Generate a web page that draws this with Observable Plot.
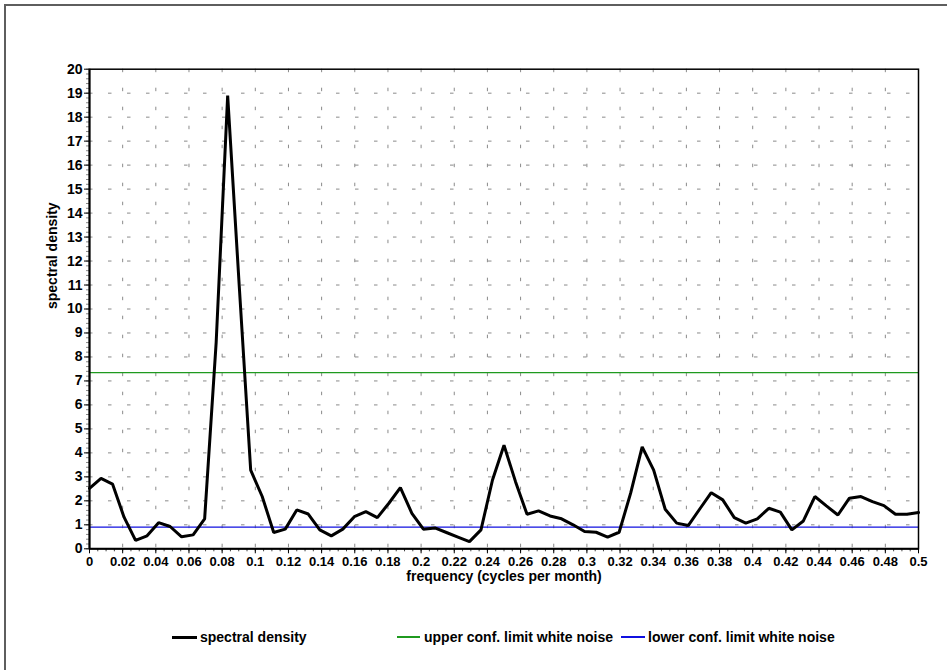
<!DOCTYPE html>
<html>
<head>
<meta charset="utf-8">
<script src="https://cdn.jsdelivr.net/npm/d3@7"></script>
<script src="https://cdn.jsdelivr.net/npm/@observablehq/plot@0.6"></script>
<style>
  html, body { margin: 0; padding: 0; background: #fff; overflow: hidden; width: 947px; height: 670px; }
  #frame { position: absolute; left: 4px; top: 4px; width: 1200px; height: 1200px; border-left: 2px solid #5e5e5e; border-top: 2px solid #5e5e5e; }
  #chart { position: absolute; left: 0; top: 0; }
  #legend { position: absolute; left: 0; top: 628px; width: 947px; height: 20px; font-family: "Liberation Sans", Arial, sans-serif; font-weight: bold; font-size: 14px; }
  #legend .sw { position: absolute; display: block; }
  #legend .lab { position: absolute; top: 1px; white-space: nowrap; line-height: 16px; }
</style>
</head>
<body>
<div id="frame"></div>
<div id="chart"></div>
<div id="legend"></div>
<script>
// Fourier frequencies k / nObs for monthly data
const nObs = 144;
const density = [2.52, 2.94, 2.70, 1.32, 0.35, 0.54, 1.09, 0.93, 0.50, 0.58,
  1.25, 8.6, 18.9, 11.0, 3.28, 2.18, 0.68, 0.82, 1.62, 1.45,
  0.79, 0.54, 0.82, 1.34, 1.55, 1.30, 1.90, 2.55, 1.48, 0.82,
  0.87, 0.68, 0.49, 0.30, 0.79, 2.87, 4.32, 2.80, 1.44, 1.58,
  1.37, 1.25, 1.00, 0.72, 0.69, 0.49, 0.69, 2.32, 4.25, 3.28,
  1.65, 1.07, 0.97, 1.66, 2.34, 2.04, 1.30, 1.07, 1.25, 1.69,
  1.53, 0.79, 1.16, 2.18, 1.79, 1.41, 2.11, 2.18, 1.97, 1.80,
  1.44, 1.44, 1.51];
const upperLimit = 7.35;
const lowerLimit = 0.90;
const xTicks = d3.range(0, 26).map(i => i / 50);
const xMinor = d3.range(0, 101).map(i => i / 200);
const yTicks = d3.range(0, 21);
const yMinor = d3.range(0, 101).map(i => i / 5);
const xTitle = "frequency (cycles per month)";
const yTitle = "spectral density";
const legendLabels = ["spectral density", "upper conf. limit white noise", "lower conf. limit white noise"];
const seriesColors = ["#000000", "#1f9a1f", "#1010e0"];

const data = density.map((v, k) => ({f: k / nObs, v}));

const chart = Plot.plot({
  width: 947,
  height: 600,
  marginLeft: 89,
  marginRight: 29,
  marginTop: 68.7,
  marginBottom: 51.7,
  style: {fontFamily: "'Liberation Sans', Arial, sans-serif", fontWeight: "bold", fontSize: "13px", background: "transparent", color: "black"},
  x: {domain: [0, 0.5]},
  y: {domain: [0, 20]},
  marks: [
    Plot.ruleX(xTicks.slice(1, -1), {stroke: "#8a8a8a", strokeWidth: 1, strokeDasharray: "3.5,15.5"}),
    Plot.ruleY(yTicks.slice(1, -1), {stroke: "#8a8a8a", strokeWidth: 1, strokeDasharray: "3.5,15.5"}),
    Plot.axisX({ticks: xMinor, tickSize: 3, tickFormat: () => "", label: null, stroke: "#444"}),
    Plot.axisX({ticks: xTicks, tickSize: 5, tickPadding: 3, fontSize: 13, tickFormat: d => String(+d.toFixed(2)), label: null}),
    Plot.axisY({ticks: yMinor, tickSize: 3, tickFormat: () => "", label: null, stroke: "#888"}),
    Plot.axisY({ticks: yTicks, tickSize: 5, tickPadding: 2, fontSize: 14, label: null}),
    Plot.ruleY([upperLimit], {stroke: seriesColors[1], strokeWidth: 1.3}),
    Plot.ruleY([lowerLimit], {stroke: seriesColors[2], strokeWidth: 1.3}),
    Plot.line(data, {x: "f", y: "v", stroke: seriesColors[0], strokeWidth: 3, strokeLinejoin: "miter"}),
    Plot.frame({stroke: "black", strokeWidth: 1.5}),
    Plot.ruleX([0], {stroke: "black", strokeWidth: 2}),
    Plot.ruleY([0], {stroke: "black", strokeWidth: 2}),
    Plot.text([xTitle], {text: d => d, frameAnchor: "bottom", dy: 32, fontSize: 14, fontWeight: "bold"}),
    Plot.text([yTitle], {text: d => d, frameAnchor: "left", dx: -37, rotate: -90, fontSize: 14, fontWeight: "bold"})
  ]
});
document.getElementById("chart").appendChild(chart);

// legend
const legend = document.getElementById("legend");
const swatchX = [172, 397, 621];
const swatchW = [25, 23, 24];
const swatchH = [3, 2, 2];
const swatchTop = [8, 8, 8];
const labelX = [200, 424, 648];
legendLabels.forEach((lab, i) => {
  const sw = document.createElement("div");
  sw.className = "sw";
  sw.style.left = swatchX[i] + "px";
  sw.style.top = swatchTop[i] + "px";
  sw.style.width = swatchW[i] + "px";
  sw.style.height = swatchH[i] + "px";
  sw.style.backgroundColor = seriesColors[i];
  legend.appendChild(sw);
  const t = document.createElement("span");
  t.className = "lab";
  t.style.left = labelX[i] + "px";
  t.textContent = lab;
  legend.appendChild(t);
});
</script>
</body>
</html>
